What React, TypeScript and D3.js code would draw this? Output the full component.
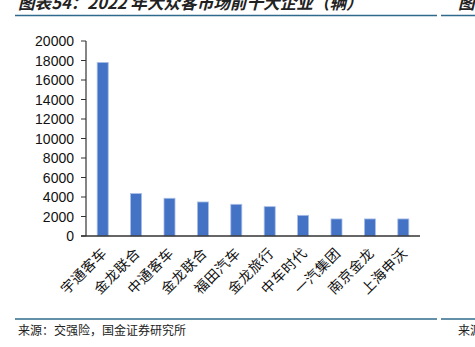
import React from "react";
import * as d3 from "d3";

const categories = ["宇通客车", "金龙联合", "中通客车", "金龙联合", "福田汽车", "金龙旅行", "中车时代", "一汽集团", "南京金龙", "上海申沃"];
const values = [17800, 4350, 3870, 3490, 3250, 3010, 2120, 1750, 1750, 1750];
const yTicks = [0, 2000, 4000, 6000, 8000, 10000, 12000, 14000, 16000, 18000, 20000];
const title = "图表54：2022 年大众客市场前十大企业（辆）";
const source = "来源：交强险，国金证券研究所";

export default function App() {
  const W = 475, H = 347;
  const left = 86, right = 420, top = 41, bottom = 236;
  const x = d3.scaleBand<string>().domain(categories.map((_, i) => String(i))).range([left, right]).paddingInner(0.67).paddingOuter(0.335);
  const y = d3.scaleLinear().domain([0, 20000]).range([bottom, top]);
  const lineColor = "#2F6A8C";
  return (
    <svg width={W} height={H} style={{ position: "absolute", left: 0, top: 0, background: "#fff" }}>
      <text x={18} y={8.5} fontFamily="'Noto Sans CJK SC'" fontSize={16.6} fontStyle="italic" fontWeight="bold" fill="#222">{title}</text>
      <text x={458} y={8.5} fontFamily="'Noto Sans CJK SC'" fontSize={16.6} fontStyle="italic" fontWeight="bold" fill="#222">图</text>
      <line x1={15} x2={437} y1={15.5} y2={15.5} stroke={lineColor} strokeWidth={1.5} />
      <line x1={441} x2={475} y1={15.5} y2={15.5} stroke={lineColor} strokeWidth={1.5} />
      {yTicks.map((t) => (
        <g key={t}>
          <line x1={left - 5} x2={left} y1={y(t)} y2={y(t)} stroke="#333" strokeWidth={1} />
          <text x={74} y={y(t)} dy="0.36em" textAnchor="end" fontFamily="'Liberation Sans', Arial" fontSize={14} fill="#111">{t}</text>
        </g>
      ))}
      {values.map((v, i) => (
        <rect key={i} x={x(String(i))!} y={y(v)} width={x.bandwidth()} height={bottom - y(v)} fill="#4472C4" stroke="#A9BFE8" strokeWidth={0.8} />
      ))}
      <line x1={left} x2={left} y1={top} y2={bottom} stroke="#333" strokeWidth={1.2} />
      <line x1={left - 5} x2={right} y1={bottom} y2={bottom} stroke="#333" strokeWidth={1.5} />
      {categories.map((c, i) => {
        const cx = x(String(i))! + x.bandwidth() / 2 + 5;
        const cy = bottom + 18;
        return (
          <text key={i} x={cx} y={cy} textAnchor="end" transform={`rotate(-45 ${cx} ${cy})`} fontFamily="'Noto Sans CJK SC'" fontSize={14} letterSpacing={0.5} fill="#111">{c}</text>
        );
      })}
      <line x1={15} x2={437} y1={319} y2={319} stroke={lineColor} strokeWidth={1.5} />
      <line x1={441} x2={475} y1={319} y2={319} stroke={lineColor} strokeWidth={1.5} />
      <text x={18} y={335} fontFamily="'Noto Sans CJK SC'" fontSize={12} fill="#222">{source}</text>
      <text x={458} y={335} fontFamily="'Noto Sans CJK SC'" fontSize={12} fill="#222">来源</text>
    </svg>
  );
}
